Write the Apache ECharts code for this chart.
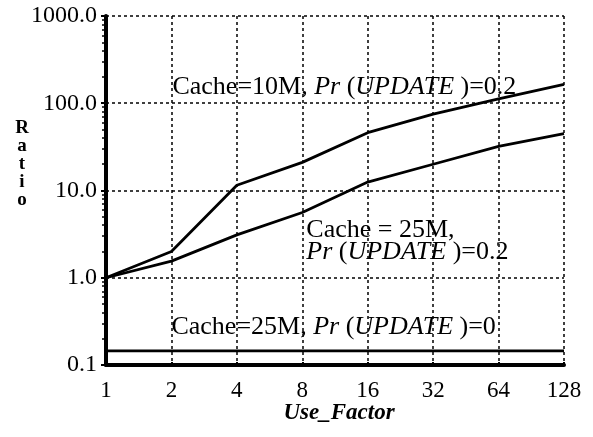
<!DOCTYPE html>
<html>
<head>
<meta charset="utf-8">
<script src="https://cdn.jsdelivr.net/npm/echarts@6/dist/echarts.min.js"></script>
<style>
  html, body { margin: 0; padding: 0; background: #fff; }
  #main { width: 593px; height: 437px; }
</style>
</head>
<body>
<div id="main"></div>
<script>
  var useFactor = ['1', '2', '4', '8', '16', '32', '64', '128'];
  var cache10M = [1.0, 2.0, 11.5, 21, 46, 75, 112, 165];
  var cache25M = [1.0, 1.55, 3.1, 5.6, 12.5, 20, 32, 45];
  var cache25MNoUpd = [0.145, 0.145, 0.145, 0.145, 0.145, 0.145, 0.145, 0.145];

  var FONT = '"Liberation Serif", "DejaVu Serif", serif';
  var chart = echarts.init(document.getElementById('main'));

  function line(data) {
    return {
      type: 'line',
      data: data,
      symbol: 'none',
      lineStyle: { color: '#000', width: 2.8 },
      z: 5
    };
  }

  chart.setOption({
    backgroundColor: '#fff',
    animation: false,
    grid: { left: 106, right: 29, top: 16, bottom: 72 },
    xAxis: {
      type: 'category',
      data: useFactor,
      boundaryGap: false,
      axisLine: { lineStyle: { color: '#000', width: 4 } },
      axisTick: { show: true, inside: true, length: 3, lineStyle: { color: '#000', width: 2 } },
      axisLabel: { color: '#000', fontFamily: FONT, fontSize: 23, margin: 14 },
      splitLine: { show: true, lineStyle: { color: '#000', width: 1.5, type: [3, 3] } },
      name: 'Use_Factor',
      nameLocation: 'middle',
      nameGap: 37,
      nameMoveOverlap: false,
      nameTextStyle: { color: '#000', fontFamily: FONT, fontSize: 23, fontWeight: 'bold', fontStyle: 'italic', padding: [0, 0, 0, 8] }
    },
    yAxis: {
      type: 'log',
      logBase: 10,
      min: 0.1,
      max: 1000,
      axisLine: { show: true, lineStyle: { color: '#000', width: 4 } },
      axisTick: { show: true, inside: false, length: 5, lineStyle: { color: '#000', width: 2 } },
      minorTick: { show: true, splitNumber: 9, length: 4, lineStyle: { color: '#000', width: 1.5 } },
      axisLabel: {
        color: '#000', fontFamily: FONT, fontSize: 24, margin: 9,
        formatter: function (v) { return v.toFixed(1); }
      },
      splitLine: { show: true, lineStyle: { color: '#000', width: 1.5, type: [3, 3] } }
    },
    series: [line(cache10M), line(cache25M), line(cache25MNoUpd)]
  });

  // annotations, anchored in data space
  var rich = {
    a: { fontFamily: FONT, fontSize: 26, fill: '#000' },
    i: { fontFamily: FONT, fontSize: 26, fontStyle: 'italic', fill: '#000' }
  };
  function note(cat, val, text, dx, dy) {
    var p = chart.convertToPixel({ gridIndex: 0 }, [cat, val]);
    return {
      type: 'text', x: p[0] + (dx || 0), y: p[1] + (dy || 0), z: 10,
      style: { text: text, rich: rich, fontFamily: FONT, fontSize: 26, fill: '#000', align: 'left', verticalAlign: 'middle' }
    };
  }
  chart.setOption({
    graphic: [
      note(1, 152, '{a|Cache=10M, }{i|Pr}{a| (}{i|UPDATE }{a|)=0.2}', 1, 0),
      note(3, 2.66, '{a|Cache = 25M,}', 4, -11),
      note(3, 2.66, '{i|Pr}{a| (}{i|UPDATE }{a|)=0.2}', 4, 11),
      note(1, 0.273, '{a|Cache=25M, }{i|Pr}{a| (}{i|UPDATE }{a|)=0}', 0, 0),
      {
        type: 'text', x: 22, y: 119,
        style: { text: 'R\na\nt\ni\no', fontFamily: FONT, fontSize: 19, fontWeight: 'bold', fill: '#000', align: 'center', lineHeight: 18 }
      }
    ]
  });
</script>
</body>
</html>
